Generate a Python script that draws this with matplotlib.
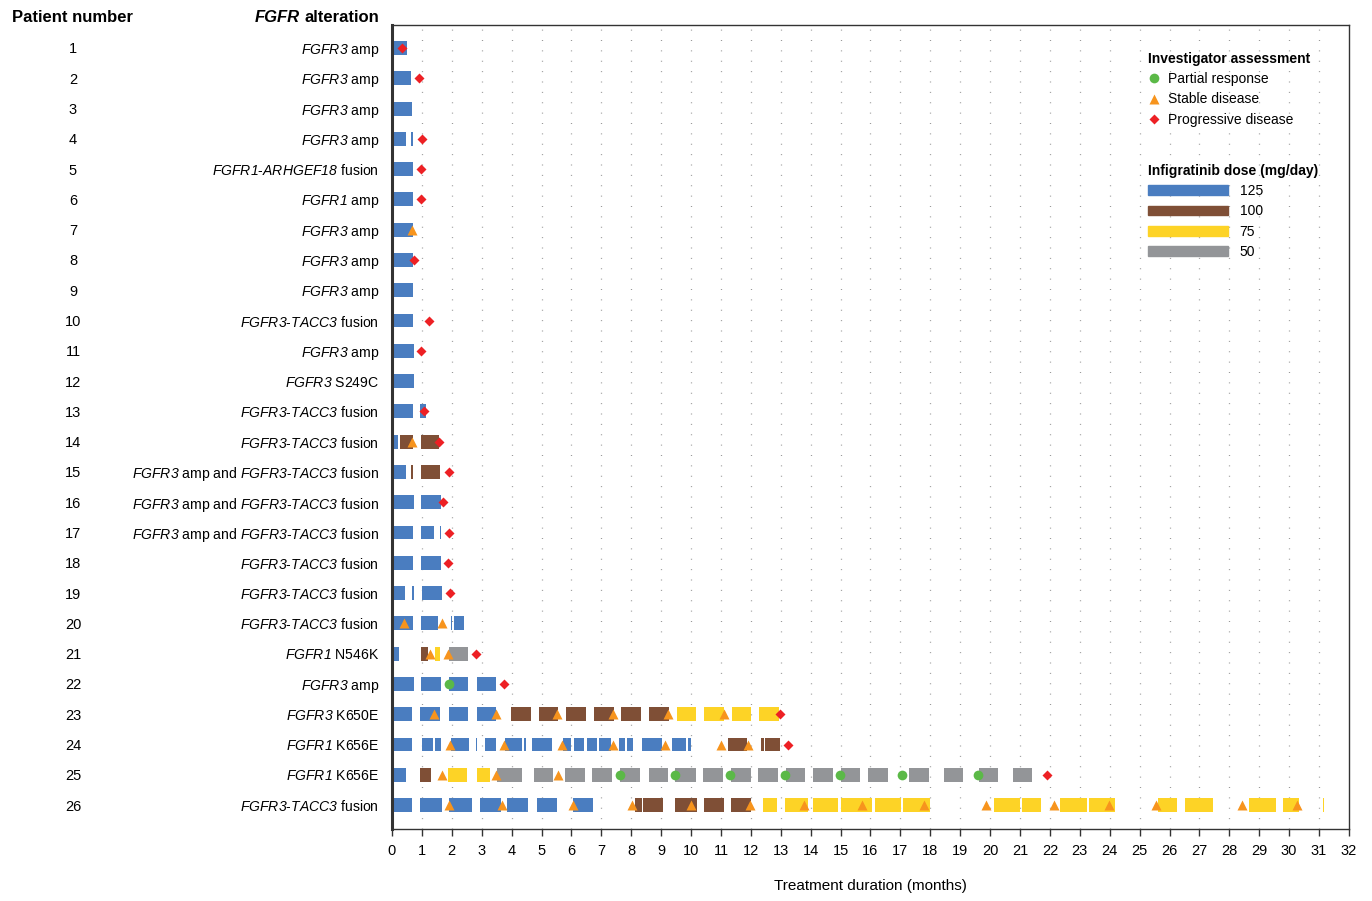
import matplotlib.pyplot as plt
from matplotlib.lines import Line2D
from matplotlib.patches import Patch
from matplotlib.transforms import blended_transform_factory

plt.rcParams['font.family'] = 'Liberation Sans'
plt.rcParams['mathtext.fontset'] = 'custom'
# gene names go in $...$, drawn fully in italic (digits included)
plt.rcParams['mathtext.rm'] = 'Liberation Sans:italic'
plt.rcParams['mathtext.it'] = 'Liberation Sans:italic'
plt.rcParams['mathtext.bf'] = 'Liberation Sans:bold'

# Patients and their FGFR alteration
patients = list(range(1, 27))
alterations = [
    r'$FGFR3$ amp', r'$FGFR3$ amp', r'$FGFR3$ amp', r'$FGFR3$ amp',
    r'$FGFR1$-$ARHGEF18$ fusion', r'$FGFR1$ amp', r'$FGFR3$ amp', r'$FGFR3$ amp',
    r'$FGFR3$ amp', r'$FGFR3$-$TACC3$ fusion', r'$FGFR3$ amp', r'$FGFR3$ S249C',
    r'$FGFR3$-$TACC3$ fusion', r'$FGFR3$-$TACC3$ fusion',
    r'$FGFR3$ amp and $FGFR3$-$TACC3$ fusion', r'$FGFR3$ amp and $FGFR3$-$TACC3$ fusion',
    r'$FGFR3$ amp and $FGFR3$-$TACC3$ fusion', r'$FGFR3$-$TACC3$ fusion',
    r'$FGFR3$-$TACC3$ fusion', r'$FGFR3$-$TACC3$ fusion', r'$FGFR1$ N546K',
    r'$FGFR3$ amp', r'$FGFR3$ K650E', r'$FGFR1$ K656E', r'$FGFR1$ K656E',
    r'$FGFR3$-$TACC3$ fusion',
]

# Treatment periods (patient, start month, end month) per dose level
dose125 = [
    (1, 0, 0.5), (2, 0, 0.65), (3, 0, 0.68), (4, 0, 0.48), (4, 0.64, 0.70),
    (5, 0, 0.71), (6, 0, 0.71), (7, 0, 0.71), (8, 0, 0.71), (9, 0, 0.71),
    (10, 0, 0.71), (11, 0, 0.73), (12, 0, 0.74), (13, 0, 0.70), (13, 0.95, 1.15),
    (14, 0, 0.2), (15, 0, 0.47), (16, 0, 0.73), (16, 0.97, 1.63),
    (17, 0, 0.70), (17, 0.97, 1.4), (17, 1.6, 1.64), (18, 0, 0.70), (18, 0.97, 1.63),
    (19, 0, 0.43), (19, 0.68, 0.72), (19, 1.01, 1.66),
    (20, 0, 0.70), (20, 0.97, 1.55), (20, 1.96, 2.0), (20, 2.08, 2.41),
    (21, 0, 0.24),
    (22, 0, 0.73), (22, 0.97, 1.64), (22, 1.91, 2.55), (22, 2.83, 3.48),
    (23, 0, 0.68), (23, 0.95, 1.62), (23, 1.9, 2.55), (23, 2.83, 3.48),
    (24, 0, 0.68), (24, 0.99, 1.36), (24, 1.45, 1.65), (24, 1.97, 2.59),
    (24, 2.81, 2.85), (24, 3.11, 3.48), (24, 3.78, 4.36), (24, 4.43, 4.47),
    (24, 4.67, 5.34), (24, 5.73, 6.0), (24, 6.07, 6.42), (24, 6.51, 6.87),
    (24, 6.92, 7.31), (24, 7.59, 7.79), (24, 7.85, 8.07), (24, 8.35, 9.02),
    (24, 9.37, 9.83), (24, 9.91, 10.0),
    (25, 0, 0.48),
    (26, 0, 0.68), (26, 0.94, 1.66), (26, 1.92, 2.68), (26, 2.95, 3.63),
    (26, 3.85, 4.54), (26, 4.84, 5.52), (26, 6.06, 6.73),
]
dose100 = [
    (14, 0.28, 0.70), (14, 0.97, 1.56), (15, 0.64, 0.70), (15, 0.97, 1.6),
    (21, 0.97, 1.19),
    (23, 3.98, 4.64), (23, 4.9, 5.55), (23, 5.82, 6.48), (23, 6.74, 7.41),
    (23, 7.67, 8.33), (23, 8.59, 9.26),
    (24, 11.22, 11.86), (24, 12.34, 12.44), (24, 12.47, 12.97),
    (25, 0.94, 1.29),
    (26, 8.13, 8.35), (26, 8.38, 9.07), (26, 9.47, 10.19), (26, 10.42, 11.09),
    (26, 11.35, 12.02),
]
dose75 = [
    (21, 1.44, 1.62),
    (23, 9.52, 10.18), (23, 10.43, 11.1), (23, 11.36, 12.02), (23, 12.27, 12.95),
    (25, 1.87, 2.52), (25, 2.85, 3.28),
    (26, 12.42, 12.88), (26, 13.13, 13.9), (26, 14.07, 14.91), (26, 15.01, 16.06),
    (26, 16.16, 17.02), (26, 17.08, 18.0), (26, 20.13, 20.99), (26, 21.07, 21.71),
    (26, 22.34, 23.24), (26, 23.31, 24.18), (26, 25.6, 26.25), (26, 26.52, 27.46),
    (26, 28.67, 29.55), (26, 29.81, 30.33), (26, 31.12, 31.16),
]
dose50 = [
    (21, 1.92, 2.55),
    (25, 3.5, 4.35), (25, 4.74, 5.4), (25, 5.79, 6.44), (25, 6.7, 7.37),
    (25, 7.64, 8.3), (25, 8.58, 9.24), (25, 9.48, 10.15), (25, 10.41, 11.08),
    (25, 11.32, 11.99), (25, 12.25, 12.92), (25, 13.17, 13.8), (25, 14.07, 14.74),
    (25, 15.0, 15.64), (25, 15.92, 16.57), (25, 17.29, 17.96), (25, 18.45, 19.11),
    (25, 19.62, 20.26), (25, 20.75, 21.41),
]

# Investigator assessments (patient, month)
partial_response = [
    (22, 1.9), (25, 7.61), (25, 9.46), (25, 11.3), (25, 13.14), (25, 14.97),
    (25, 17.05), (25, 19.6),
]
stable_disease = [
    (7, 0.68), (14, 0.68), (20, 0.41), (20, 1.67), (21, 1.27), (21, 1.88),
    (23, 1.42), (23, 3.48), (23, 5.52), (23, 7.4), (23, 9.24), (23, 11.09),
    (24, 1.94), (24, 3.76), (24, 5.7), (24, 7.4), (24, 9.13), (24, 10.99), (24, 11.89),
    (25, 1.67), (25, 3.48), (25, 5.54),
    (26, 1.9), (26, 3.68), (26, 6.04), (26, 8.01), (26, 9.99), (26, 11.98),
    (26, 13.79), (26, 15.73), (26, 17.79), (26, 19.86), (26, 22.14), (26, 23.96),
    (26, 25.56), (26, 28.42), (26, 30.25),
]
progressive_disease = [
    (1, 0.34), (2, 0.89), (4, 1.0), (5, 0.97), (6, 0.96), (8, 0.74), (10, 1.23),
    (11, 0.97), (13, 1.07), (14, 1.56), (15, 1.9), (16, 1.7), (17, 1.9), (18, 1.86),
    (19, 1.93), (21, 2.81), (22, 3.74), (23, 12.96), (24, 13.25), (25, 21.9),
]

dose_colors = {'125': '#4a7dc0', '100': '#7f4f36', '75': '#fdd326', '50': '#939598'}

fig = plt.figure(figsize=(13.72, 9.01), dpi=100)
ax = fig.add_axes([0.2857, 0.0799, 0.6975, 0.8924])

for x in range(1, 32):
    ax.axvline(x, color='#9a9a9a', lw=0.9, linestyle=(0, (0.8, 7.5)), zorder=0)

for segs, key in [(dose125, '125'), (dose100, '100'), (dose75, '75'), (dose50, '50')]:
    ax.barh([s[0] for s in segs], [s[2] - s[1] for s in segs], left=[s[1] for s in segs],
            height=0.46, color=dose_colors[key], edgecolor='none', zorder=2)

ax.plot([m[1] for m in partial_response], [m[0] for m in partial_response], 'o',
        color='#5bb947', ms=7, mec='none', zorder=3)
ax.plot([m[1] for m in stable_disease], [m[0] for m in stable_disease], '^',
        color='#f7941d', ms=6.5, mec='none', zorder=3)
ax.plot([m[1] for m in progressive_disease], [m[0] for m in progressive_disease], 'D',
        color='#ed2024', ms=5.5, mec='none', zorder=4)

ax.set_xlim(0, 32)
ax.set_ylim(26.79, 0.24)
ax.set_xticks(range(0, 33))
ax.tick_params(axis='x', direction='out', length=5, width=1, labelsize=10.5, pad=6, color='#333333')
ax.set_yticks([])
for side in ['top', 'right', 'bottom']:
    ax.spines[side].set_linewidth(1.0)
    ax.spines[side].set_color('#333333')
ax.spines['left'].set_linewidth(2.2)
ax.spines['left'].set_color('#333333')
ax.set_xlabel('Treatment duration (months)', fontsize=11, labelpad=15)

# Patient numbers and alteration labels on the left
tr = blended_transform_factory(fig.transFigure, ax.transData)
for p, alt in zip(patients, alterations):
    ax.text(73 / 1372, p, str(p), transform=tr, ha='center', va='center_baseline', fontsize=10.5)
    ax.text(379 / 1372, p, alt, transform=tr, ha='right', va='center_baseline', fontsize=10.1)

fig.text(73 / 1372, 1 - 17 / 901, 'Patient number', ha='center', va='center',
         fontsize=12, weight='bold')
t_alt = fig.text(379 / 1372, 1 - 17 / 901, 'alteration', ha='right', va='center',
                 fontsize=12, weight='bold')
fig.canvas.draw()
bb = t_alt.get_window_extent()
fig.text((bb.x0 - 4) / 1372, 1 - 17 / 901, 'FGFR', ha='right', va='center',
         fontsize=12, weight='bold', style='italic')

# Legends
h1 = [Line2D([], [], marker='o', ls='none', color='#5bb947', ms=7, mec='none'),
      Line2D([], [], marker='^', ls='none', color='#f7941d', ms=6.5, mec='none'),
      Line2D([], [], marker='D', ls='none', color='#ed2024', ms=5.5, mec='none')]
leg1 = ax.legend(h1, ['Partial response', 'Stable disease', 'Progressive disease'],
                 title='Investigator assessment', loc='upper left',
                 bbox_to_anchor=((1148 - 392) / 957, 1 - (52 - 25) / 804),
                 frameon=False, fontsize=10, title_fontproperties={'weight': 'bold', 'size': 10},
                 alignment='left', borderpad=0, handlelength=0.8, handletextpad=0.65,
                 labelspacing=0.45, borderaxespad=0)
ax.add_artist(leg1)
h2 = [Patch(color=dose_colors[k]) for k in ['125', '100', '75', '50']]
ax.legend(h2, ['125', '100', '75', '50'], title='Infigratinib dose (mg/day)', loc='upper left',
          bbox_to_anchor=((1148 - 392) / 957, 1 - (164 - 25) / 804),
          frameon=False, fontsize=10, title_fontproperties={'weight': 'bold', 'size': 10},
          alignment='left', borderpad=0, handlelength=5.75, handleheight=0.7,
          handletextpad=0.85, labelspacing=0.45, borderaxespad=0)

fig.savefig('out.png', dpi=100)
